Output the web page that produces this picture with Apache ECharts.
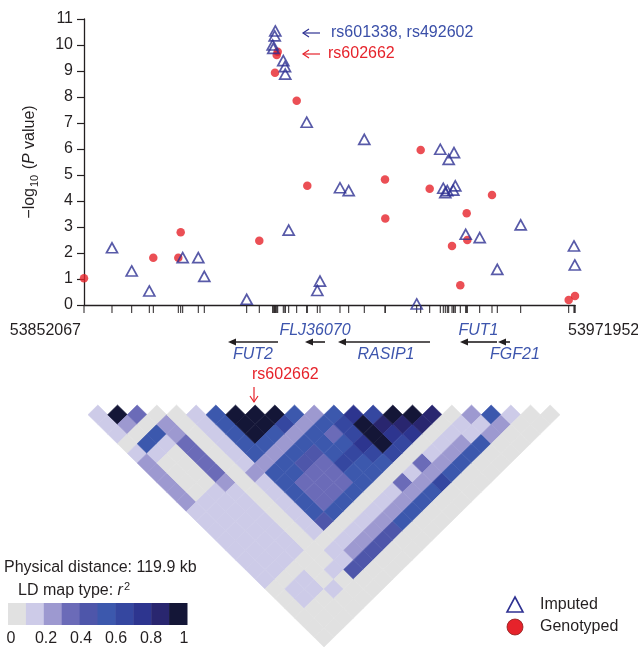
<!DOCTYPE html>
<html><head><meta charset="utf-8">
<script src="https://cdn.jsdelivr.net/npm/echarts@6/dist/echarts.min.js"></script>
<style>html,body{margin:0;padding:0;background:#fff}#c{width:638px;height:647px}</style>
</head><body><div id="c"></div>
<script>
// ---------------- data ----------------
const xMin = 53852067, xMax = 53971952;
const xEndLabels = ['53852067', '53971952'];
const yTicks = [0,1,2,3,4,5,6,7,8,9,10,11];

const genotypedPos = [53852067,53868987,53875677,53875091,53894868,53898702,53899117,53899361,53904000,53906588,
  53925559,53925632,53934276,53936473,53941918,53943944,53945507,53945654,53951684,53970411,53971952];
const genotypedLogP = [1.03,1.82,2.80,1.82,2.47,8.93,9.62,9.74,7.86,4.59,
  4.83,3.33,5.96,4.47,2.27,0.76,3.53,2.50,4.23,0.19,0.35];

const imputedPos = [53858903,53863713,53868011,53876166,53879974,53881439,53891792,53898775,53898628,53898140,
  53898287,53900728,53901143,53901200,53906441,53902046,53909689,53909030,53914572,53916696,
  53920505,53933299,53939062,53942406,53941112,53939794,53940282,53940770,53942235,53942724,
  53945263,53948681,53958692,53952978,53971700,53971900];
const imputedLogP = [2.20,1.31,0.54,1.82,1.82,1.10,0.22,10.54,10.35,10.00,
  9.87,9.40,9.17,8.88,7.03,2.88,0.92,0.56,4.51,4.40,
  6.37,0.04,5.99,5.86,5.60,4.49,4.32,4.40,4.42,4.58,
  2.72,2.59,3.08,1.37,2.27,1.54];

const geneNames = ['FUT2','FLJ36070','RASIP1','FUT1','FGF21'];
const geneStart = [53887226,53906026,53914083,53943871,53953149];
const geneEnd   = [53899434,53910909,53936546,53952905,53956079];

// LD r^2 matrix, row a lists pairs (a, a+1 ... 24)
const ldRows = [
  [.1,.1,.1,0,.1,.2,.2,.2,.2,.2,.1,.1,.1,.1,.1,.1,.1,.1,0,0,0,0,0,0],
  [.9,.2,0,.5,.1,0,0,0,0,.1,.1,.1,.1,.1,.1,.1,.1,0,.1,.1,0,0,0],
  [.3,0,.5,.1,0,0,0,0,.1,.1,.1,.1,.1,.1,.1,.1,0,.1,.1,0,0,0],
  [0,.2,.2,.3,.3,.3,.3,.2,.1,.1,.1,.1,.1,.1,.1,0,0,0,.1,0,0],
  [0,0,0,0,0,0,0,0,0,0,0,0,0,0,0,0,.1,0,0,0],
  [.1,.1,.1,.1,.1,.1,.2,.1,.1,.1,.1,.1,.1,0,.1,.1,.4,0,0],
  [.5,.5,.5,.5,.5,.2,.5,.5,.5,.5,.5,.4,0,.1,.2,.4,0,0],
  [.9,.9,.9,.5,.2,.5,.5,.3,.3,.3,.5,0,.1,.2,.4,0,0],
  [.9,.9,.5,.2,.5,.4,.3,.3,.3,.5,0,.1,.2,.4,0,0],
  [.9,.6,.2,.5,.4,.3,.3,.3,.5,0,.1,.2,.4,0,0],
  [.5,.2,.5,.5,.5,.6,.5,.5,0,.1,.2,.5,0,0],
  [.2,.5,.3,.5,.6,.5,.5,0,.1,.2,.5,0,0],
  [.5,.6,.6,.7,.6,.5,0,.3,.2,.5,0,0],
  [.7,.9,.9,.9,.6,0,.1,.2,.5,0,0],
  [.6,.8,.7,.6,0,.3,.2,.6,0,0],
  [.9,.8,.7,0,.1,.2,.5,0,0],
  [.9,.8,0,.1,.2,.5,0,0],
  [.8,0,.1,.2,.5,0,0],
  [0,.1,.1,.5,0,0],
  [.2,.1,.2,0,0],
  [.5,.2,0,0],
  [.1,0,0],
  [0,0],
  [0]
];
const ldColors = ['#e1e1e1','#cdcbe8','#9d99d0','#6b6bb8','#4e56aa','#3c58ad','#3547a0','#2d358f','#29266f','#141637'];
const ldScaleLabels = ['0','0.2','0.4','0.6','0.8','1'];
const legendNames = ['Imputed','Genotyped'];

// ---------------- styles ----------------
const FONT = '"Liberation Sans", Arial, Helvetica, sans-serif';
const INK = '#231f20';
const RED = '#e6232b';
const NAVY = '#2e3192';
const GENE_BLUE = '#3d55ad';
const geneLabelSide = ['below','above','below','above','below'];
const geneLabelDx = [0,0,2,0,11];

const ldData = [];
ldRows.forEach((row, a) => row.forEach((v, k) => ldData.push([a, a + 1 + k, v])));
const allPos = genotypedPos.concat(imputedPos).sort((p, q) => p - q);

const chart = echarts.init(document.getElementById('c'), null, {renderer: 'canvas'});

const graphics = [];
function txt(text, x, y, opt) {
  graphics.push({type: 'text', silent: true, style: Object.assign({text, x, y, fontSize: 16, fontFamily: FONT, fill: INK, align: 'left', verticalAlign: 'middle'}, opt || {})});
}
// end labels of x axis
txt(xEndLabels[0], 81, 331, {align: 'right'});
txt(xEndLabels[1], 568, 331, {align: 'left'});
// annotations at peak
function leftArrow(x, y, color) {
  graphics.push({type: 'line', silent: true, shape: {x1: x, y1: y, x2: x + 17, y2: y}, style: {stroke: color, lineWidth: 1.2}});
  graphics.push({type: 'polyline', silent: true, shape: {points: [[x + 6, y - 4], [x, y], [x + 6, y + 4]]}, style: {stroke: color, lineWidth: 1.2, fill: null}});
}
leftArrow(303, 33, NAVY);
txt('rs601338, rs492602', 331, 33, {fill: '#3a4fa8'});
leftArrow(303, 54, RED);
txt('rs602662', 328, 54, {fill: RED});
// rs602662 marker above LD map
txt('rs602662', 252, 375, {fill: RED});
graphics.push({type: 'line', silent: true, shape: {x1: 254, y1: 387, x2: 254, y2: 402}, style: {stroke: RED, lineWidth: 1.2}});
graphics.push({type: 'polyline', silent: true, shape: {points: [[250, 396], [254, 402], [258, 396]]}, style: {stroke: RED, lineWidth: 1.2, fill: null}});
// LD legend
txt('Physical distance: 119.9 kb', 4, 568);
graphics.push({type: 'text', silent: true, style: {text: '{t|LD map type: }{i|r}{s|2}', x: 18, y: 591, verticalAlign: 'middle', fontSize: 16, fontFamily: FONT, fill: INK,
  rich: {t: {fontSize: 16, fontFamily: FONT, fill: INK}, i: {fontSize: 16, fontStyle: 'italic', fontFamily: FONT, fill: INK}, s: {fontSize: 11, fontFamily: FONT, fill: INK, padding: [0, 0, 9, 1]}}}});
const barX = 8, barW = 179, barY = 603, barH = 22;
ldColors.forEach((c, i) => graphics.push({type: 'rect', silent: true, shape: {x: barX + i * barW / ldColors.length, y: barY, width: barW / ldColors.length + 0.5, height: barH}, style: {fill: c}}));
const lblX = [11, 46, 81, 116, 151, 184];
ldScaleLabels.forEach((l, i) => txt(l, lblX[i], 639, {align: 'center'}));
// symbol legend
graphics.push({type: 'polygon', silent: true, shape: {points: [[515, 597], [523, 612], [507, 612]]}, style: {fill: '#fff', stroke: NAVY, lineWidth: 1.6}});
txt(legendNames[0], 540, 605);
graphics.push({type: 'circle', silent: true, shape: {cx: 515, cy: 627, r: 8}, style: {fill: RED, stroke: '#8a1c1c', lineWidth: 0.8}});
txt(legendNames[1], 540, 627);

const option = {
  animation: false,
  backgroundColor: '#fff',
  grid: [
    {left: 84, top: 19, width: 491, height: 286},
    {left: 88, top: 405, width: 472, height: 242}
  ],
  xAxis: [
    {type: 'value', gridIndex: 0, min: xMin, max: xMax, axisLine: {lineStyle: {color: INK, width: 1.3}}, axisTick: {show: false}, axisLabel: {show: false}, splitLine: {show: false}},
    {type: 'value', gridIndex: 1, min: -0.5, max: 23.5, show: false}
  ],
  yAxis: [
    {type: 'value', gridIndex: 0, min: yTicks[0], max: yTicks[yTicks.length - 1], interval: 1,
      axisLine: {show: true, lineStyle: {color: INK, width: 1.3}},
      axisTick: {show: true, length: 7, lineStyle: {color: INK, width: 1.2}},
      axisLabel: {fontSize: 16, fontFamily: FONT, color: INK, margin: 11},
      splitLine: {show: false},
      name: '{t|−log}{s|10}{t| (}{i|P}{t| value)}', nameLocation: 'middle', nameRotate: 90, nameGap: 44,
      nameTextStyle: {fontSize: 16, fontFamily: FONT, color: INK,
        rich: {t: {fontSize: 16, fontFamily: FONT, color: INK}, i: {fontSize: 16, fontStyle: 'italic', fontFamily: FONT, color: INK}, s: {fontSize: 11, fontFamily: FONT, color: INK, padding: [9, 1, 0, 1]}}}
    },
    {type: 'value', gridIndex: 1, min: -1, max: 24, inverse: true, show: false}
  ],
  series: [
    {
      type: 'custom', xAxisIndex: 0, yAxisIndex: 0, silent: true, clip: false,
      data: allPos.map(p => [p, 0]),
      renderItem: (params, api) => {
        const p = api.coord([api.value(0), 0]);
        return {type: 'line', shape: {x1: p[0], y1: p[1], x2: p[0], y2: p[1] + 8}, style: {stroke: INK, lineWidth: 1}};
      }
    },
    {
      type: 'custom', xAxisIndex: 0, yAxisIndex: 0, silent: true, clip: false,
      data: geneNames.map((n, i) => [geneStart[i], geneEnd[i], i]),
      renderItem: (params, api) => {
        const i = api.value(2);
        const s = api.coord([api.value(0), 0]);
        const e = api.coord([api.value(1), 0]);
        const y = s[1] + 37;
        const head = 8;
        const cx = (s[0] + e[0]) / 2 + geneLabelDx[i];
        const above = geneLabelSide[i] === 'above';
        return {type: 'group', children: [
          {type: 'line', shape: {x1: s[0] + head - 1, y1: y, x2: e[0], y2: y}, style: {stroke: INK, lineWidth: 1.6}},
          {type: 'polygon', shape: {points: [[s[0], y], [s[0] + head, y - 3.5], [s[0] + head, y + 3.5]]}, style: {fill: INK}},
          {type: 'text', style: {text: geneNames[i], x: cx, y: above ? y - 11 : y + 13, align: 'center', verticalAlign: 'middle', fontSize: 16, fontStyle: 'italic', fontFamily: FONT, fill: GENE_BLUE}}
        ]};
      }
    },
    {
      name: legendNames[1], type: 'scatter', xAxisIndex: 0, yAxisIndex: 0, clip: false,
      symbol: 'circle', symbolSize: 8.5,
      itemStyle: {color: RED},
      data: genotypedPos.map((p, i) => [p, genotypedLogP[i]]), z: 3
    },
    {
      name: legendNames[0], type: 'scatter', xAxisIndex: 0, yAxisIndex: 0, clip: false,
      symbol: 'triangle', symbolSize: [11, 10],
      itemStyle: {color: 'rgba(255,255,255,0)', borderColor: NAVY, borderWidth: 1.7},
      data: imputedPos.map((p, i) => [p, imputedLogP[i]]), z: 4
    },
    {
      type: 'custom', xAxisIndex: 1, yAxisIndex: 1, silent: true,
      data: ldData,
      renderItem: (params, api) => {
        const a = api.value(0), b = api.value(1), v = api.value(2);
        const u = (a + b - 1) / 2, d = b - a - 1;
        const pts = [api.coord([u, d - 1]), api.coord([u + 0.5, d]), api.coord([u, d + 1]), api.coord([u - 0.5, d])];
        const col = ldColors[Math.min(9, Math.floor(v * 10 + 1e-6))];
        return {type: 'polygon', shape: {points: pts}, style: {fill: col, stroke: col, lineWidth: 0.6}};
      }
    }
  ],
  graphic: {elements: graphics}
};
chart.setOption(option);
</script>
</body></html>
